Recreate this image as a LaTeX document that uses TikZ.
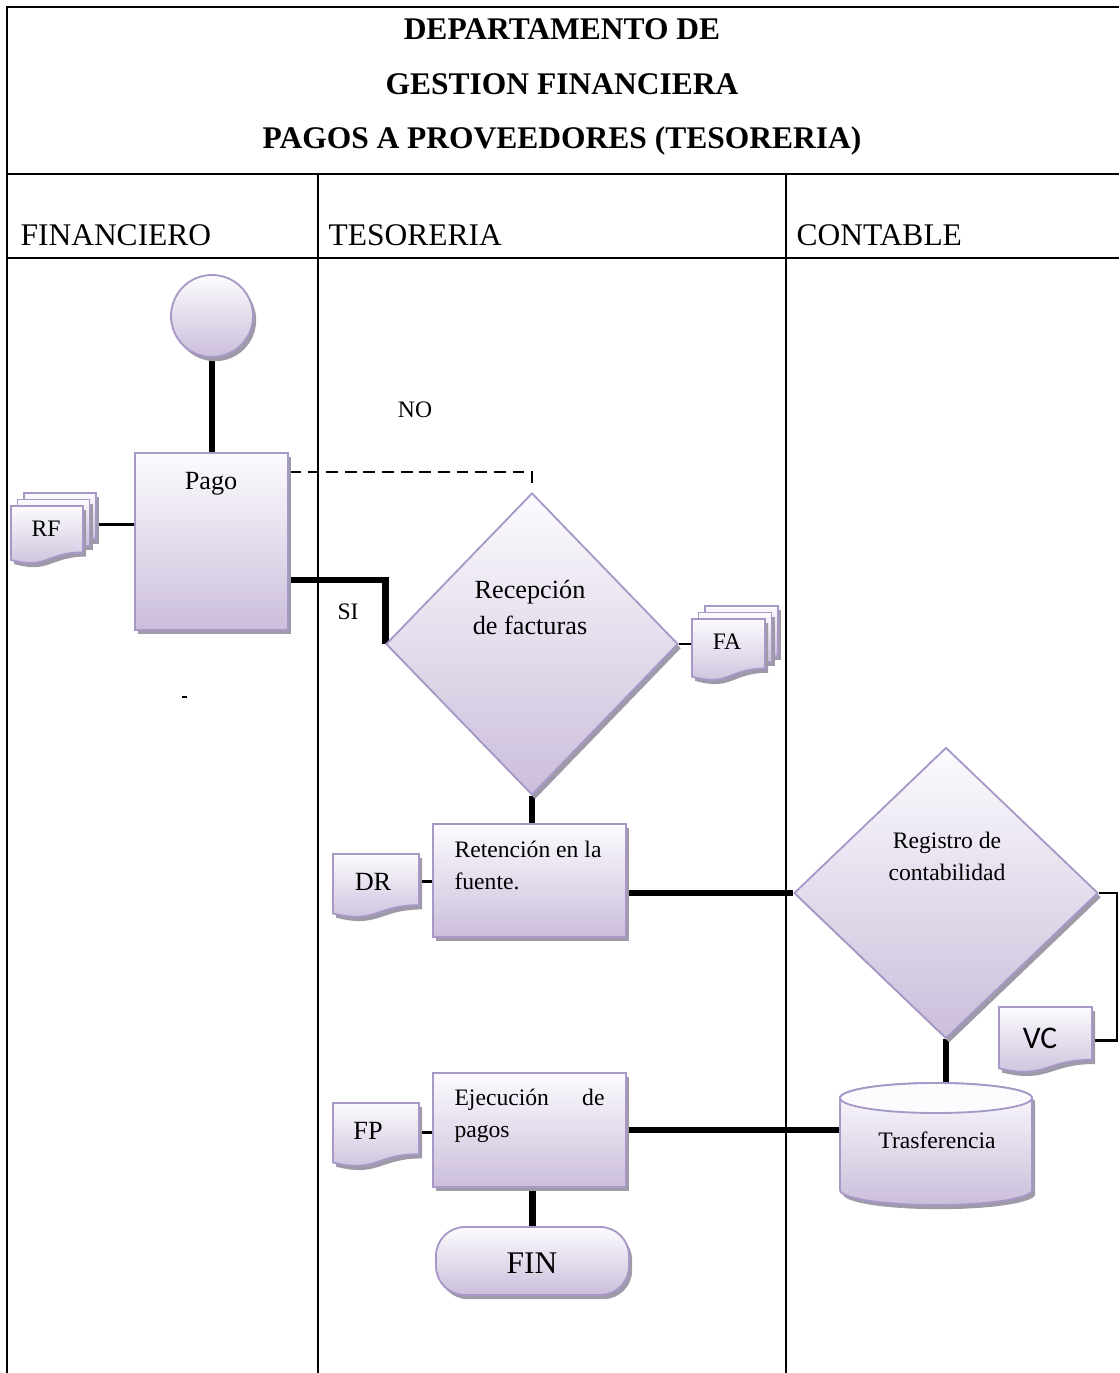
\documentclass[tikz,border=0pt]{standalone}
\usepackage{fontspec}
\setmainfont{Liberation Serif}
\newfontfamily\calibrifont{Carlito}
\usetikzlibrary{shapes.geometric,shadows,calc}

\definecolor{lavline}{RGB}{167,152,200}
\definecolor{lavtop}{RGB}{252,251,254}
\definecolor{lavbot}{RGB}{203,190,219}
\definecolor{shadowgray}{RGB}{158,154,168}

\pgfdeclarelayer{links}
\pgfsetlayers{links,main}

\tikzset{
  framerule/.style={line width=1pt},
  procbox/.style={draw=lavline, line width=0.7pt, top color=lavtop, bottom color=lavbot,
    drop shadow={shadow xshift=1.2pt, shadow yshift=-1.6pt, fill=shadowgray, opacity=1}},
  heavy/.style={line width=2.6pt},
  thinlink/.style={line width=0.8pt},
  dashlink/.style={line width=1pt, dash pattern=on 4.5pt off 2.6pt},
  anchorbox/.style={inner sep=0pt, anchor=north west},
  every node/.append style={inner sep=0pt},
  tnine/.style={font=\fontsize{9}{11}\selectfont},
  tten/.style={font=\fontsize{10}{12}\selectfont},
  ttwelve/.style={font=\fontsize{12}{14}\selectfont},
}

% one sheet with a wavy lower edge: left x, top y, width, height (px units)
\newcommand\docsheet[4]{%
  \path[procbox] (#1,#2) -- ({#1+#3},#2) -- ({#1+#3},{#2+0.8*#4})
    .. controls ({#1+0.5*#3},{#2+0.8*#4}) and ({#1+0.5*#3},{#2+1.1*#4}) .. (#1,{#2+0.93*#4}) -- cycle;}
% two pages stacked behind a sheet
\newcommand\backpages[4]{%
  \path[procbox] ({#1+13},{#2-13}) rectangle ({#1+#3+13},{#2+0.8*#4-13});
  \path[procbox] ({#1+6.5},{#2-6.5}) rectangle ({#1+#3+6.5},{#2+0.8*#4-6.5});}

\begin{document}
\begin{tikzpicture}[x=0.381pt,y=-0.381pt]
\useasboundingbox (0,0) rectangle (1119,1373);

% table of lanes
\draw[framerule] (7,1373) -- (7,7) -- (1119,7);
\draw[framerule] (7,174) -- (1119,174);
\draw[framerule] (7,258) -- (1119,258);
\draw[framerule] (318,174) -- (318,1373);
\draw[framerule] (786,174) -- (786,1373);

\node[font=\bfseries\fontsize{12}{20.6}\selectfont, align=center] (title) at (562,87)
  {DEPARTAMENTO DE\\GESTION FINANCIERA\\PAGOS A PROVEEDORES (TESORERIA)};

\node[ttwelve, anchor=base west] (lanefin) at (20,246) {FINANCIERO};
\node[ttwelve, anchor=base west] (lanetes) at (328,246) {TESORERIA};
\node[ttwelve, anchor=base west] (lanecon) at (796,246) {CONTABLE};

% FINANCIERO lane
\node[procbox, circle, minimum size=82*0.381pt] (start) at (212,316) {};
\node[procbox, minimum width=153*0.381pt, minimum height=177*0.381pt] (pago) at (211.5,541.5) {};
\node[tten, anchor=base] (pagotxt) at (211,490) {Pago};

\backpages{11}{506}{72}{58}
\docsheet{11}{506}{72}{58}
\node[anchorbox, minimum width=85*0.381pt, minimum height=62*0.381pt] (rf) at (11,493) {};
\node[tnine, anchor=base] (rftxt) at (46,536) {RF};

\draw[line width=0.8pt] (182,697) -- (187,697);

% TESORERIA lane
\node[procbox, diamond, minimum width=292*0.381pt, minimum height=302*0.381pt] (recep) at (532,644) {};
\node[tten, anchor=base] (receptxta) at (530,598) {Recepción};
\node[tten, anchor=base] (receptxtb) at (530,634) {de facturas};

\backpages{692}{619}{73}{62}
\docsheet{692}{619}{73}{62}
\node[anchorbox, minimum width=86*0.381pt, minimum height=78*0.381pt] (fa) at (692,606) {};
\node[tnine, anchor=base] (fatxt) at (727,649) {FA};

\node[procbox, minimum width=193*0.381pt, minimum height=113*0.381pt] (ret) at (529.5,880.5) {};
\node[tnine, anchor=base west] (rettxta) at (454,857) {Retención en la};
\node[tnine, anchor=base west] (rettxtb) at (454,889) {fuente.};

\docsheet{333}{854}{86}{64}
\node[anchorbox, minimum width=86*0.381pt, minimum height=54*0.381pt] (dr) at (333,854) {};
\node[tten, anchor=base] (drtxt) at (373,890) {DR};

\node[procbox, minimum width=193*0.381pt, minimum height=114*0.381pt] (ejec) at (529.5,1130) {};
\node[tnine, anchor=base west] (ejectxta) at (454,1105) {Ejecución};
\node[tnine, anchor=base east] (ejectxtb) at (605,1105) {de};
\node[tnine, anchor=base west] (ejectxtc) at (454,1137) {pagos};

\docsheet{333}{1103}{86}{64}
\node[anchorbox, minimum width=86*0.381pt, minimum height=58*0.381pt] (fp) at (333,1103) {};
\node[tten, anchor=base] (fptxt) at (368,1139) {FP};

\node[procbox, rounded corners=11pt, minimum width=193*0.381pt, minimum height=68*0.381pt] (fin) at (532.5,1261) {};
\node[ttwelve, anchor=base] (fintxt) at (532,1273) {FIN};

\node[tnine, anchor=base] (notxt) at (415,418) {NO};
\node[tnine, anchor=base] (sitxt) at (348,619) {SI};

% CONTABLE lane
\node[procbox, diamond, minimum width=304*0.381pt, minimum height=291*0.381pt] (reg) at (946,893) {};
\node[tnine, anchor=base] (regtxta) at (947,848) {Registro de};
\node[tnine, anchor=base] (regtxtb) at (947,880) {contabilidad};

\docsheet{999}{1007}{93}{66}
\node[anchorbox, minimum width=93*0.381pt, minimum height=66*0.381pt] (vc) at (999,1007) {};
\node[font=\calibrifont\fontsize{12}{14}\selectfont, anchor=base] (vctxt) at (1040,1048) {VC};

\path[procbox] (840,1098) -- (840,1190) arc[start angle=180, end angle=0, x radius=96, y radius=15]
  -- (1032,1098) arc[start angle=0, end angle=-180, x radius=96, y radius=15] -- cycle;
\path[draw=lavline, line width=0.7pt, fill=lavtop] (936,1098) ellipse [x radius=96, y radius=15];
\node[minimum width=192*0.381pt, minimum height=122*0.381pt] (trans) at (936,1144) {};
\node[tnine, anchor=base] (transtxt) at (937,1148) {Trasferencia};

% connectors
\begin{pgfonlayer}{links}
\draw[heavy] (start.south) -- (start.south |- pago.north);
\draw[thinlink] (rf.east) -- (rf.east -| pago.west);
\draw[dashlink] ($(pago.north east)+(0,20)$) -| ($(recep.north)+(0,-5)$);
\draw[heavy] ($(pago.north east)+(0,128)$) -| (recep.west);
\draw[thinlink] (recep.east) -- (recep.east -| fa.west);
\draw[heavy] (recep.south) -- (recep.south |- ret.north);
\draw[thinlink] (dr.east) -- (dr.east -| ret.west);
\draw[heavy] (reg.west -| ret.east) -- (reg.west);
\draw[thinlink] (reg.east) -- ++(18,0) |- (vc.east);
\draw[heavy] (reg.south) -- (reg.south |- trans.north);
\draw[heavy] (ejec.east) -- (ejec.east -| trans.west);
\draw[thinlink] (fp.east) -- (fp.east -| ejec.west);
\draw[heavy] (fin.north |- ejec.south) -- (fin.north);
\end{pgfonlayer}
\end{tikzpicture}
\end{document}
